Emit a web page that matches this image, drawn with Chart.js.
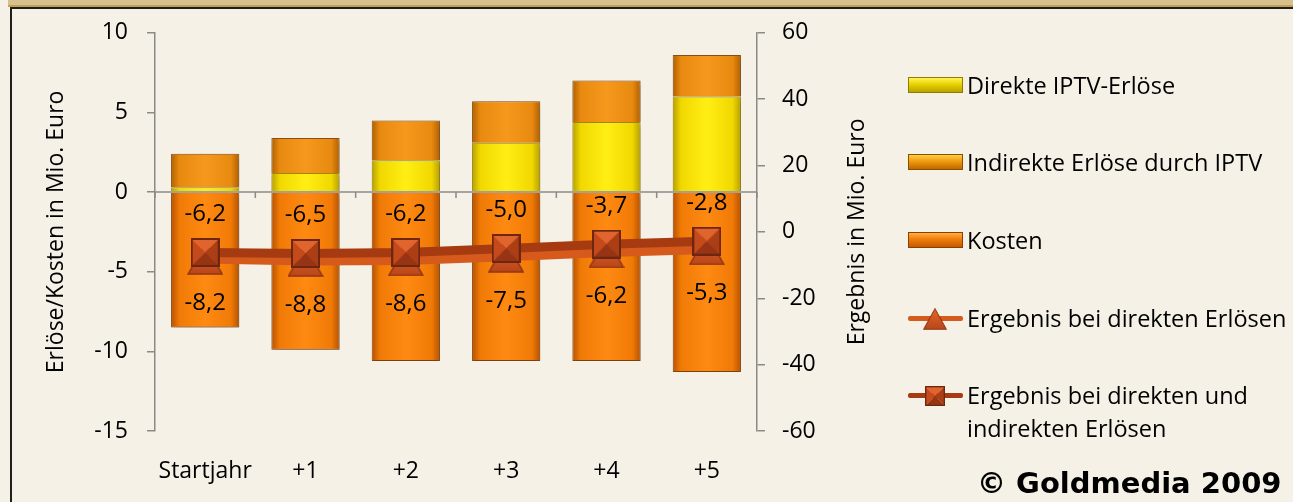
<!DOCTYPE html>
<html>
<head>
<meta charset="utf-8">
<script src="https://cdn.jsdelivr.net/npm/chart.js@4.4.1/dist/chart.umd.min.js"></script>
<style>
  html, body { margin: 0; padding: 0; }
  body { width: 1293px; height: 502px; overflow: hidden; background: #f6f1e6; position: relative; font-family: "Open Sans", sans-serif; }
  #topband { position: absolute; left: 8px; top: 0; width: 1285px; height: 5px; background: #d8c08c; border-bottom: 2px solid #c29f55; }
  #frame { position: absolute; left: 10px; top: 7px; width: 1283px; height: 495px; border-top: 2px solid #1e1e1e; border-left: 2px solid #1e1e1e; box-sizing: border-box; }
  #chart { position: absolute; left: 0; top: 0; }
  #legend { position: absolute; left: 0; top: 0; }
  .item { position: absolute; left: 908px; height: 33px; }
  .sym { position: absolute; left: 0; top: 8px; width: 55px; height: 16px; box-sizing: border-box; }
  .line { position: absolute; left: 0; top: 14px; width: 55px; height: 5px; border-radius: 2px; }
  .mk { position: absolute; }
  .txt { position: absolute; left: 59px; top: 0; font-size: 23.5px; line-height: 33px; color: #000; white-space: pre; }
  #copy { position: absolute; left: 977px; top: 466px; font: bold 29px "DejaVu Sans", sans-serif; line-height: 34px; color: #000; }
</style>
</head>
<body>
<div id="topband"></div>
<div id="frame"></div>
<canvas id="chart" width="1293" height="502"></canvas>
<div id="legend"></div>
<div id="copy">© Goldmedia 2009</div>
<script>
const categories = ["Startjahr", "+1", "+2", "+3", "+4", "+5"];
const direkteErloese = [0.3, 1.2, 2.0, 3.1, 4.4, 6.0];
const indirekteErloese = [2.1, 2.2, 2.5, 2.6, 2.6, 2.6];
const kosten = [-8.5, -9.9, -10.6, -10.6, -10.6, -11.3];
const ergebnisDirekt = [-8.2, -8.8, -8.6, -7.5, -6.2, -5.3];
const ergebnisGesamt = [-6.2, -6.5, -6.2, -5.0, -3.7, -2.8];
const leftAxis = { min: -15, max: 10, step: 5 };
const rightAxis = { min: -60, max: 60, step: 20 };

const FONT = '"Open Sans", sans-serif';
const AXIS_GRAY = "#8a8a8a";
const rightTitle = "Ergebnis in Mio. Euro";

// gel look for the bars: dark sides, bright middle
function barFill(dark, mid, light) {
  return (c) => {
    const chart = c.chart;
    if (!chart.chartArea) return mid;
    const x = chart.scales.x.getPixelForValue(c.dataIndex);
    const half = 34;
    const g = chart.ctx.createLinearGradient(x - half, 0, x + half, 0);
    g.addColorStop(0, dark);
    g.addColorStop(0.12, mid);
    g.addColorStop(0.5, light);
    g.addColorStop(0.88, mid);
    g.addColorStop(1, dark);
    return g;
  };
}

function makeSquare(s) {
  const c = document.createElement("canvas");
  c.width = c.height = s;
  const g = c.getContext("2d");
  const m = s / 2;
  const tri = (pts, col) => {
    g.beginPath();
    g.moveTo(pts[0][0], pts[0][1]);
    g.lineTo(pts[1][0], pts[1][1]);
    g.lineTo(m, m);
    g.closePath();
    g.fillStyle = col;
    g.fill();
  };
  tri([[0, 0], [s, 0]], "#e0642e");
  tri([[0, 0], [0, s]], "#c44a1c");
  tri([[s, 0], [s, s]], "#ac3e16");
  tri([[0, s], [s, s]], "#963414");
  g.strokeStyle = "#6e2610";
  g.lineWidth = 2;
  g.strokeRect(1, 1, s - 2, s - 2);
  return c;
}

function makeTriangle(w, h) {
  const c = document.createElement("canvas");
  c.width = w;
  c.height = h;
  const g = c.getContext("2d");
  const grad = g.createLinearGradient(0, 0, 0, h);
  grad.addColorStop(0, "#e56a2a");
  grad.addColorStop(1, "#b8441a");
  g.beginPath();
  g.moveTo(w / 2, 1);
  g.lineTo(w - 1, h - 1);
  g.lineTo(1, h - 1);
  g.closePath();
  g.fillStyle = grad;
  g.fill();
  g.strokeStyle = "#8e3412";
  g.lineWidth = 1.5;
  g.stroke();
  return c;
}

const squareMark = makeSquare(29);
const triangleMark = makeTriangle(36, 32);

const fmt = v => v.toFixed(1).replace(".", ",");

// zero line of the left axis with small category ticks
const zeroAxis = {
  id: "zeroAxis",
  afterDatasetsDraw(chart) {
    const { ctx, chartArea, scales: { x, y } } = chart;
    const y0 = y.getPixelForValue(0);
    const step = x.getPixelForValue(1) - x.getPixelForValue(0);
    ctx.save();
    ctx.strokeStyle = AXIS_GRAY;
    ctx.lineWidth = 1.5;
    ctx.beginPath();
    ctx.moveTo(chartArea.left, y0);
    ctx.lineTo(chartArea.right, y0);
    for (let i = 0; i <= categories.length; i++) {
      const xx = x.getPixelForValue(0) + (i - 0.5) * step;
      ctx.moveTo(xx, y0);
      ctx.lineTo(xx, y0 + 6);
    }
    ctx.stroke();
    ctx.restore();
  }
};

const valueLabels = {
  id: "valueLabels",
  afterDatasetsDraw(chart) {
    const ctx = chart.ctx;
    ctx.save();
    ctx.font = "24px " + FONT;
    ctx.fillStyle = "#000";
    ctx.textAlign = "center";
    ctx.textBaseline = "middle";
    chart.data.datasets.forEach((ds, i) => {
      if (ds.labelOffset === undefined) return;
      chart.getDatasetMeta(i).data.forEach((pt, j) => {
        ctx.fillText(fmt(ds.data[j]), pt.x, pt.y + ds.labelOffset);
      });
    });
    ctx.restore();
  }
};

// right axis title reads bottom-to-top like the left one
const rightAxisTitle = {
  id: "rightAxisTitle",
  afterDraw(chart) {
    const s = chart.scales.y1;
    const ctx = chart.ctx;
    ctx.save();
    ctx.translate(s.right - 30, (s.top + s.bottom) / 2);
    ctx.rotate(-Math.PI / 2);
    ctx.font = "23px " + FONT;
    ctx.fillStyle = "#000";
    ctx.textAlign = "center";
    ctx.textBaseline = "middle";
    ctx.fillText(rightTitle, 0, 0);
    ctx.restore();
  }
};

const barShadow = {
  id: "barShadow",
  beforeDatasetDraw(chart, args) {
    if (args.meta.type !== "bar") return;
    const ctx = chart.ctx;
    ctx.save();
    ctx.shadowColor = "rgba(60,40,10,0.35)";
    ctx.shadowBlur = 6;
    ctx.shadowOffsetX = 2;
    ctx.shadowOffsetY = 3;
  },
  afterDatasetDraw(chart, args) {
    if (args.meta.type !== "bar") return;
    chart.ctx.restore();
  }
};

const chart = new Chart(document.getElementById("chart"), {
  data: {
    labels: categories,
    datasets: [
      {
        type: "bar",
        label: "Direkte IPTV-Erlöse",
        data: direkteErloese,
        yAxisID: "y",
        order: 2,
        backgroundColor: barFill("#b8a000", "#f0d800", "#ffee14"),
        borderColor: "#a08c10",
        borderWidth: 1,
        categoryPercentage: 1,
        barPercentage: 0.68,
        legendCss: "background:linear-gradient(#fff45a,#e8d200 45%,#b8a400);border:1px solid #8c7c00;"
      },
      {
        type: "bar",
        label: "Indirekte Erlöse durch IPTV",
        data: indirekteErloese,
        yAxisID: "y",
        order: 2,
        backgroundColor: barFill("#b06000", "#e98a10", "#f5981c"),
        borderColor: "#8c5014",
        borderWidth: 1,
        categoryPercentage: 1,
        barPercentage: 0.68,
        legendCss: "background:linear-gradient(#ffd040,#f09a10 45%,#c06800);border:1px solid #8a5000;"
      },
      {
        type: "bar",
        label: "Kosten",
        data: kosten,
        yAxisID: "y",
        order: 2,
        backgroundColor: barFill("#b85200", "#f07a06", "#ff8a12"),
        borderColor: "#8c4a14",
        borderWidth: 1,
        categoryPercentage: 1,
        barPercentage: 0.68,
        legendCss: "background:linear-gradient(#ffb040,#f07c0c 45%,#c45a00);border:1px solid #8a4000;"
      },
      {
        type: "line",
        label: "Ergebnis bei direkten Erlösen",
        data: ergebnisDirekt,
        yAxisID: "y1",
        order: 1,
        borderColor: "#d55a1c",
        borderWidth: 9,
        pointStyle: triangleMark,
        labelOffset: 44,
        marker: triangleMark
      },
      {
        type: "line",
        label: "Ergebnis bei direkten und\nindirekten Erlösen",
        data: ergebnisGesamt,
        yAxisID: "y1",
        order: 0,
        borderColor: "#a63a10",
        borderWidth: 9,
        pointStyle: squareMark,
        labelOffset: -38,
        marker: squareMark
      }
    ]
  },
  options: {
    responsive: false,
    animation: false,
    events: [],
    layout: { padding: { left: 0, right: 406, top: 32, bottom: 0 } },
    plugins: { legend: { display: false }, tooltip: { enabled: false } },
    scales: {
      x: {
        stacked: true,
        grid: { display: false, drawTicks: false },
        border: { display: false },
        ticks: { color: "#000", font: { size: 23, family: FONT }, padding: 27 },
        afterFit: s => { s.height = 71; }
      },
      y: {
        stacked: true,
        position: "left",
        min: leftAxis.min,
        max: leftAxis.max,
        ticks: { stepSize: leftAxis.step, color: "#000", font: { size: 23, family: FONT }, padding: 19 },
        grid: { drawOnChartArea: false, tickLength: 8, color: AXIS_GRAY, lineWidth: 1.5 },
        border: { color: AXIS_GRAY, width: 1.5 },
        title: { display: true, text: "Erlöse/Kosten in Mio. Euro", color: "#000", font: { size: 23, family: FONT }, padding: { top: 43 } },
        afterFit: s => { s.width = 155; }
      },
      y1: {
        position: "right",
        min: rightAxis.min,
        max: rightAxis.max,
        ticks: { stepSize: rightAxis.step, color: "#000", font: { size: 23, family: FONT }, padding: 17 },
        grid: { drawOnChartArea: false, tickLength: 8, color: AXIS_GRAY, lineWidth: 1.5 },
        border: { color: AXIS_GRAY, width: 1.5 },
        afterFit: s => { s.width = 130; }
      }
    }
  },
  plugins: [barShadow, zeroAxis, valueLabels, rightAxisTitle]
});

// html legend built from the datasets
const legendTops = [69, 146, 224, 302, 379];
const legend = document.getElementById("legend");
chart.data.datasets.forEach((ds, i) => {
  const item = document.createElement("div");
  item.className = "item";
  item.style.top = legendTops[i] + "px";
  if (ds.type === "bar") {
    const sym = document.createElement("div");
    sym.className = "sym";
    sym.style.cssText = ds.legendCss;
    item.appendChild(sym);
  } else {
    const ln = document.createElement("div");
    ln.className = "line";
    ln.style.background = ds.borderColor;
    item.appendChild(ln);
    const img = document.createElement("img");
    img.className = "mk";
    img.src = ds.marker.toDataURL();
    const w = Math.round(ds.marker.width * 0.68);
    const h = Math.round(ds.marker.height * 0.68);
    img.style.width = w + "px";
    img.style.height = h + "px";
    img.style.left = (27 - w / 2) + "px";
    img.style.top = (16.5 - h / 2) + "px";
    item.appendChild(img);
  }
  const txt = document.createElement("div");
  txt.className = "txt";
  txt.textContent = ds.label;
  item.appendChild(txt);
  legend.appendChild(item);
});
</script>
</body>
</html>
